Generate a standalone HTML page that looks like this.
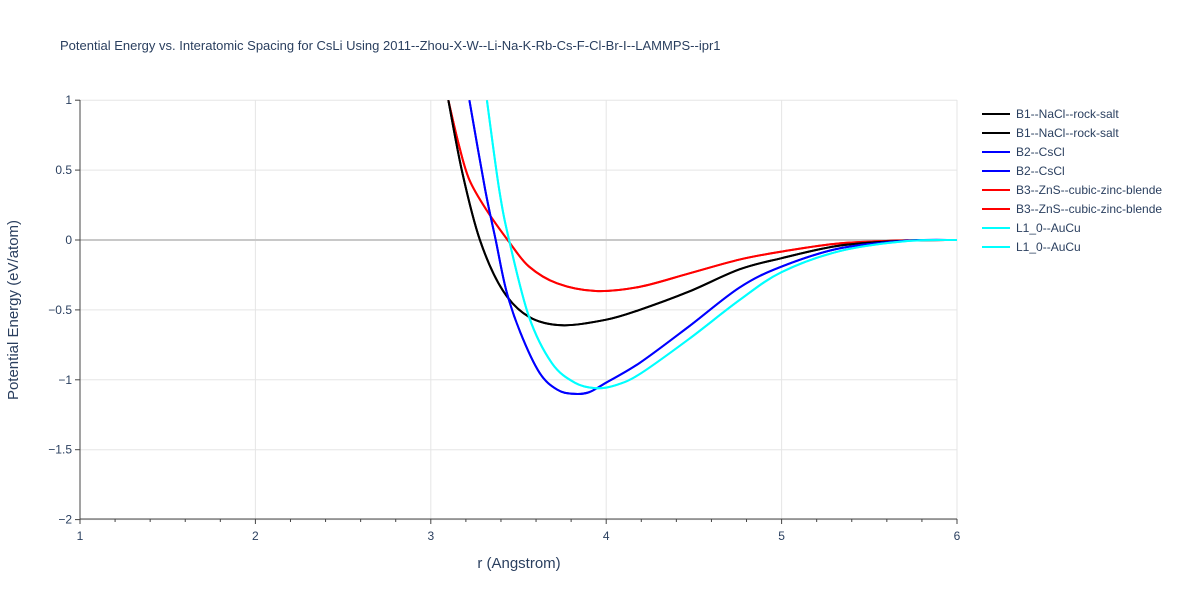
<!DOCTYPE html>
<html><head><meta charset="utf-8"><style>
body{margin:0;background:#fff;font-family:"Liberation Sans",sans-serif;}
svg text{font-family:"Liberation Sans",sans-serif;fill:#2a3f5f;}
</style></head><body>
<svg id="chart" width="1200" height="600" xmlns="http://www.w3.org/2000/svg">
<rect width="1200" height="600" fill="#fff"/>
<text x="60" y="50" font-size="13">Potential Energy vs. Interatomic Spacing for CsLi Using 2011--Zhou-X-W--Li-Na-K-Rb-Cs-F-Cl-Br-I--LAMMPS--ipr1</text>
<g id="grid"></g><g id="series"></g><g id="axes"></g><g id="legend"></g>
<text x="519" y="568" font-size="15" text-anchor="middle">r (Angstrom)</text>
<text transform="translate(18,310) rotate(-90)" font-size="15" text-anchor="middle">Potential Energy (eV/atom)</text>
</svg>
<script>
const xTicks=[1,2,3,4,5,6];
const yTicks=[1,0.5,0,-0.5,-1,-1.5,-2];
const yTickLabels=["1","0.5","0","−0.5","−1","−1.5","−2"];
const names=["B1--NaCl--rock-salt","B2--CsCl","B3--ZnS--cubic-zinc-blende","L1_0--AuCu"];
const colors=["#000000","#0000ff","#ff0000","#00ffff"];
const rB1=[3.10,3.18,3.28,3.41,3.56,3.75,4.0,4.19,4.47,4.76,5.0,5.33,5.71,6.0];
const eB1=[1,0.48,0,-0.36,-0.55,-0.61,-0.57,-0.5,-0.37,-0.21,-0.13,-0.04,-0.005,0];
const rB2=[3.22,3.31,3.37,3.43,3.51,3.62,3.72,3.81,3.9,4.0,4.19,4.47,4.76,5.0,5.33,5.71,6.0];
const eB2=[1,0.36,0,-0.36,-0.66,-0.95,-1.07,-1.1,-1.09,-1.02,-0.88,-0.62,-0.34,-0.19,-0.06,-0.005,0];
const rB3=[3.10,3.16,3.22,3.32,3.45,3.56,3.72,3.94,4.19,4.47,4.76,5.0,5.33,5.71,6.0];
const eB3=[1,0.68,0.43,0.21,-0.02,-0.19,-0.31,-0.365,-0.335,-0.24,-0.14,-0.083,-0.024,-0.003,0];
const rL10=[3.32,3.39,3.45,3.56,3.69,3.82,3.94,4.05,4.19,4.47,4.76,5.0,5.33,5.71,6.0];
const eL10=[1,0.36,-0.02,-0.55,-0.88,-1.02,-1.06,-1.04,-0.96,-0.71,-0.43,-0.23,-0.08,-0.008,0];
const X=r=>80+(r-1)*175.4;
const Y=e=>240-e*139.8;
const NS="http://www.w3.org/2000/svg";
function mk(t,p,a){const e=document.createElementNS(NS,t);for(const k in a)e.setAttribute(k,a[k]);p.appendChild(e);return e;}
const grid=document.getElementById('grid'),axes=document.getElementById('axes'),ser=document.getElementById('series'),leg=document.getElementById('legend');
xTicks.forEach(t=>{if(t>1){const l=mk('line',grid,{x1:X(t),x2:X(t),y1:100,y2:519,stroke:'#e5e5e5'});

}
const tx=mk('text',axes,{x:X(t),y:540,'font-size':12,'text-anchor':'middle'});tx.textContent=t;


mk('line',axes,{x1:X(t),x2:X(t),y1:519,y2:524,stroke:'#444'});});
for(let r=1.2;r<6;r+=0.2){if(Math.abs(r-Math.round(r))>0.01)mk('line',axes,{x1:X(r),x2:X(r),y1:519,y2:522,stroke:'#444'});}
yTicks.forEach((t,i)=>{const l=mk('line',grid,{x1:80,x2:957,y1:Y(t),y2:Y(t),stroke:t===0?'#c8c8c8':'#e5e5e5','stroke-width':t===0?2:1});


const tx=mk('text',axes,{x:72,y:Y(t)+4,'font-size':12,'text-anchor':'end'});tx.textContent=yTickLabels[i];


mk('line',axes,{x1:75,x2:80,y1:Y(t),y2:Y(t),stroke:'#444'});});
mk('line',axes,{x1:80,x2:80,y1:100,y2:519,stroke:'#444'});
mk('line',axes,{x1:80,x2:957,y1:519,y2:519,stroke:'#444'});
const data=[[rB1,eB1],[rB2,eB2],[rB3,eB3],[rL10,eL10]];
const clip=mk('clipPath',document.getElementById('chart'),{id:'pc'});mk('rect',clip,{x:80,y:100,width:877,height:419});
function pathD(rs,es){const p=rs.map((r,i)=>[X(r),Y(es[i])]);let d='M'+p[0][0]+','+p[0][1];
for(let i=0;i<p.length-1;i++){const p0=p[i-1]||p[i],p1=p[i],p2=p[i+1],p3=p[i+2]||p2;
d+=` C${p1[0]+(p2[0]-p0[0])/6},${p1[1]+(p2[1]-p0[1])/6} ${p2[0]-(p3[0]-p1[0])/6},${p2[1]-(p3[1]-p1[1])/6} ${p2[0]},${p2[1]}`;}return d;}
[2,0,1,3].forEach(k=>{for(let j=0;j<2;j++){const p=mk('path',ser,{d:pathD(data[k][0],data[k][1]),fill:'none',stroke:colors[k],'stroke-width':2,'clip-path':'url(#pc)'});

}});
for(let i=0;i<8;i++){const k=Math.floor(i/2),y=114+i*19;
const g=mk('g',leg,{});


mk('line',g,{x1:982,x2:1010,y1:y,y2:y,stroke:colors[k],'stroke-width':2});
const t=mk('text',g,{x:1016,y:y+4,'font-size':12});t.textContent=names[k];}
</script>
</body></html>
